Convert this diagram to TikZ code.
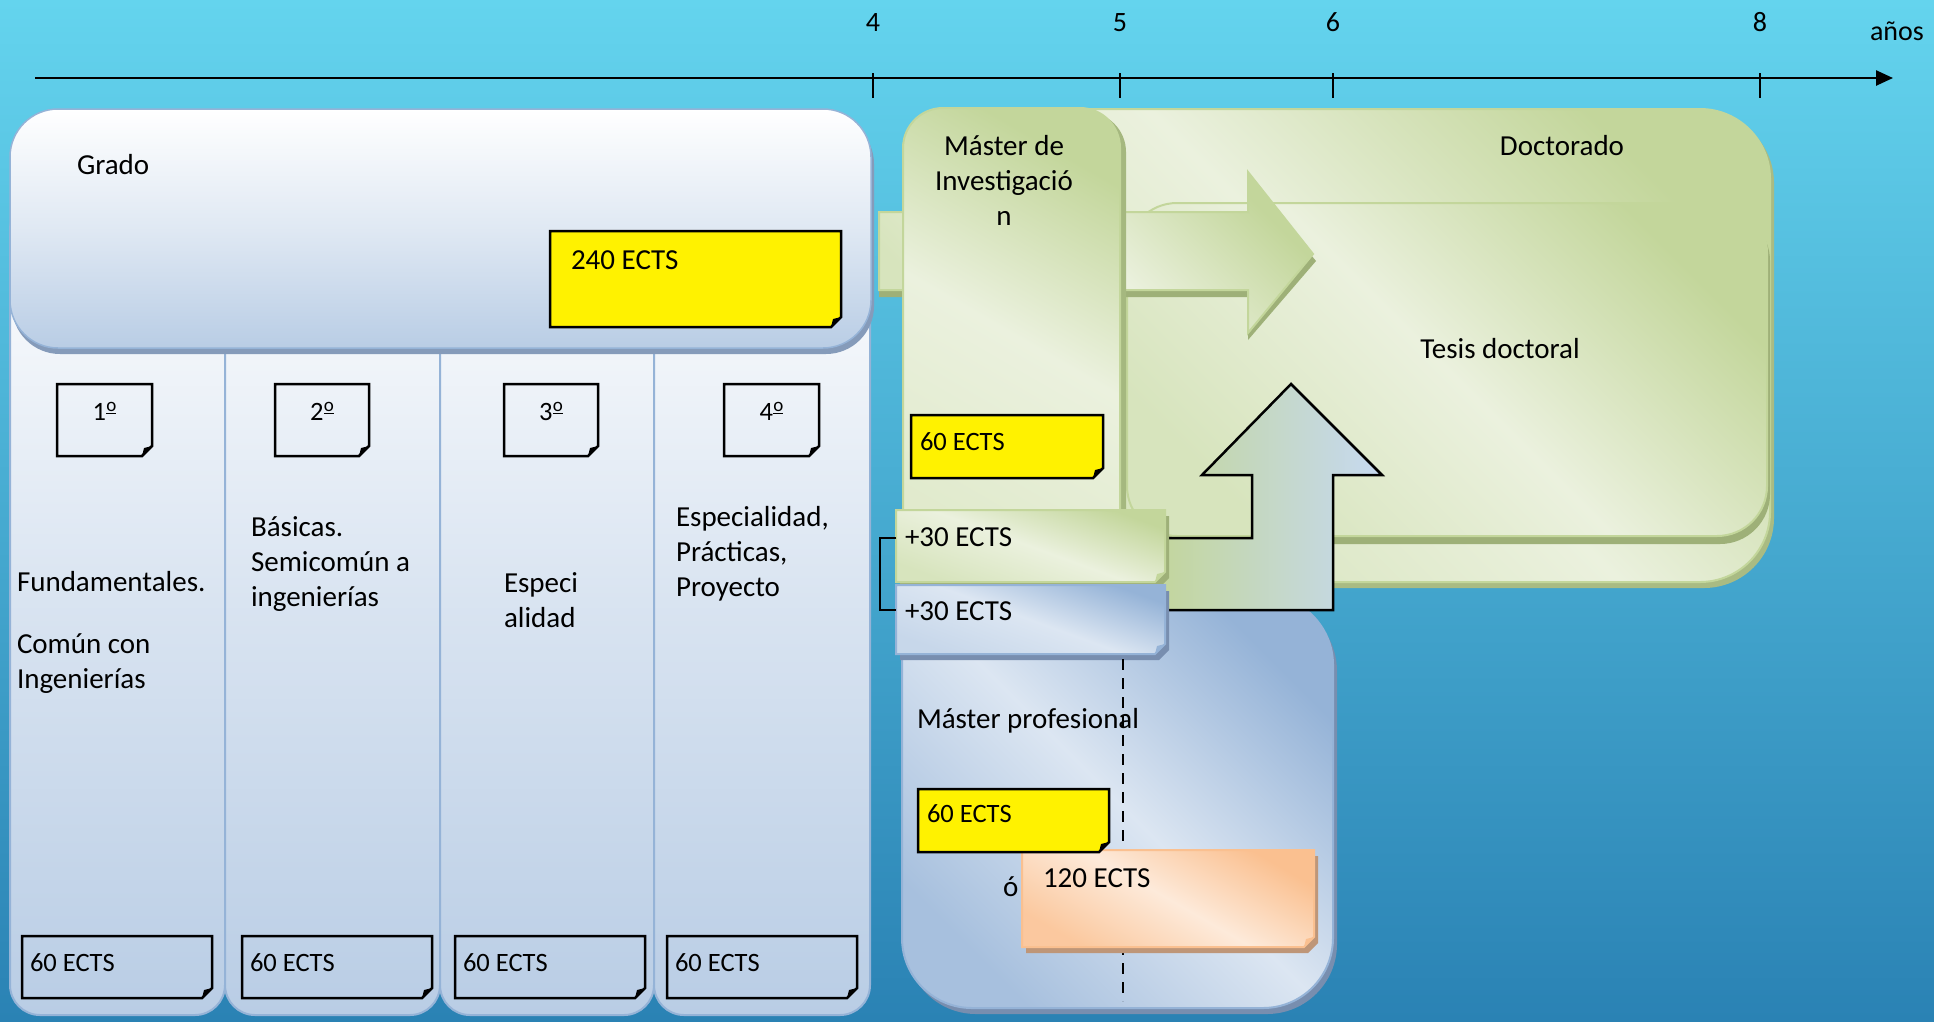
\documentclass[tikz,border=0pt]{standalone}
\usepackage{fontspec}
\setmainfont{Carlito}
\usetikzlibrary{calc,arrows.meta}
\definecolor{bgtop}{RGB}{100,212,238}
\definecolor{bgbot}{RGB}{42,130,180}
\definecolor{gblue}{RGB}{185,205,229}
\definecolor{gbluebd}{RGB}{149,179,215}
\definecolor{gbluesh}{RGB}{120,142,175}
\definecolor{glight}{RGB}{235,241,222}
\definecolor{gmid}{RGB}{215,228,189}
\definecolor{gdark}{RGB}{195,214,155}
\definecolor{gsh}{RGB}{158,176,120}
\definecolor{blight}{RGB}{220,230,242}
\definecolor{bdark}{RGB}{149,179,215}
\definecolor{bluish}{RGB}{198,217,241}
\definecolor{olight}{RGB}{253,234,218}
\definecolor{odark}{RGB}{250,192,144}
\definecolor{osh}{RGB}{190,150,120}
\newcommand\stnote[8]{%
  \node[inner sep=0pt,outer sep=0pt,minimum width=#4pt,minimum height=#5pt,anchor=north west] (#1) at (#2,#3) {};
  \path[#8] ([shift={(4pt,-6pt)}]#1.north west) -- ([shift={(4pt,-6pt)}]#1.north east) -- ([shift={(4pt,4pt)}]#1.south east) -- ([shift={(-6pt,-6pt)}]#1.south east) -- ([shift={(4pt,-6pt)}]#1.south west) -- cycle;
  \path[#6] (#1.north west) -- (#1.north east) -- ([yshift=10pt]#1.south east) -- ([xshift=-10pt]#1.south east) -- (#1.south west) -- cycle;
  \path[#7] ([yshift=10pt]#1.south east) -- ([xshift=-10pt]#1.south east) -- ([shift={(-8pt,8pt)}]#1.south east) -- cycle;
}
\newcommand\tbl[1]{\begin{tabular}[t]{@{}l@{}}#1\end{tabular}}
\newcommand\tblc[1]{\begin{tabular}[t]{@{}c@{}}#1\end{tabular}}
\newcommand\ordm{\kern0.5pt\raisebox{0.33em}{\fontsize{19}{19}\selectfont\underline{o}}}
\begin{document}
\begin{tikzpicture}[x=1pt,y=-1pt,
  txt/.style={font=\fontsize{29}{35}\selectfont, inner sep=0pt, outer sep=0pt, text=black},
  stxt/.style={font=\fontsize{26.5}{32}\selectfont, inner sep=0pt, outer sep=0pt, text=black},
  axlab/.style={font=\fontsize{28}{32}\selectfont, inner sep=0pt, outer sep=0pt},
  yellownote/.style={fill=yellow, draw=black, line width=2.5pt},
  plainnote/.style={draw=black, line width=2.5pt},
  greenfill/.style={top color=gdark, bottom color=gmid, middle color=glight, shading angle=-45},
  bluefill/.style={top color=bdark, bottom color=bdark!75!blight, middle color=blight, shading angle=-45},
]
\useasboundingbox (0,0) rectangle (1934,1021);
\shade[top color=bgtop, bottom color=bgbot] (0,0) rectangle (1934,1021);

% time axis
\coordinate (axstart) at (35,78);
\coordinate (axend) at (1893,78);
\draw[line width=2.5pt, -{Triangle[length=17pt,width=15pt]}] (axstart) -- (axend);
\foreach \x/\l in {873/4,1120/5,1333/6,1760/8}{
  \draw[line width=2pt] (\x,73) -- (\x,98);
  \node[axlab, anchor=base] (yr\l) at (\x,31) {\l};
}
\node[axlab, anchor=base west] (anos) at (1870,40) {años};

% Grado columns
\foreach \a/\b in {10/225,225/440,440/654,654/870}{
  \shade[top color=white, bottom color=gblue, middle color=white!45!gblue, draw=gbluebd, line width=2pt, rounded corners=30pt] (\a,200) rectangle (\b,1015);
}
% Grado header
\fill[gbluesh!80!gblue, rounded corners=48pt] (12,116) rectangle (874,354);
\shade[top color=white, bottom color=gblue, middle color=white!55!gblue, draw=gbluebd, line width=1.5pt, rounded corners=48pt] (10,109) rectangle (871,348);
\node[txt, anchor=base west] (grado) at (77,174) {Grado};
\stnote{n240}{550}{231}{291}{96}{yellownote}{fill=black}{}
\node[txt, anchor=base west] (t240) at (571,269) {240 ECTS};

% year notes
\stnote{y1}{57}{384}{95}{72}{plainnote}{fill=black}{}
\stnote{y2}{275}{384}{94}{72}{plainnote}{fill=black}{}
\stnote{y3}{504}{384}{94}{72}{plainnote}{fill=black}{}
\stnote{y4}{724}{384}{95}{72}{plainnote}{fill=black}{}
\node[stxt, anchor=base] (ty1) at (y1.north |- 0,420) {1\ordm};
\node[stxt, anchor=base] (ty2) at (y2.north |- 0,420) {2\ordm};
\node[stxt, anchor=base] (ty3) at (y3.north |- 0,420) {3\ordm};
\node[stxt, anchor=base] (ty4) at (y4.north |- 0,420) {4\ordm};

% column texts
\node[txt, anchor=base west] (c1) at (17,591) {\tbl{Fundamentales.\\[27pt]Común con\\Ingenierías}};
\node[txt, anchor=base west] (c2) at (251,536) {\tbl{Básicas.\\Semicomún a\\ingenierías}};
\node[txt, anchor=base west] (c3) at (504,592) {\tbl{Especi\\alidad}};
\node[txt, anchor=base west] (c4) at (676,526) {\tbl{Especialidad,\\Prácticas,\\Proyecto}};

% bottom 60 ECTS notes
\foreach \n/\x in {1/22,2/242,3/455,4/667}{
  \stnote{e\n}{\x}{936}{190}{62}{plainnote}{fill=black}{}
  \node[stxt, anchor=base west] (te\n) at (\x+8,971) {60 ECTS};
}

% Doctorado
\fill[gsh!70!gdark, rounded corners=70pt] (1004,113) rectangle (1774,588);
\shade[greenfill, draw=gdark, line width=2pt, rounded corners=70pt] (1000,109) rectangle (1770,582);
\node[txt, anchor=base] (doct) at (1562,155) {Doctorado};

% Tesis
\fill[gsh, rounded corners=50pt] (1130,211) rectangle (1770,544);
\shade[greenfill, draw=gdark, line width=2pt, rounded corners=50pt] (1127,203) rectangle (1767,536);
\node[txt, anchor=base] (tesis) at (1500,358) {Tesis doctoral};

% Master profesional box
\fill[gbluesh, rounded corners=70pt] (906,601) rectangle (1337,1014);
\shade[bluefill, draw=bdark, line width=2pt, rounded corners=70pt] (902,595) rectangle (1333,1008);

% big right arrow
\fill[gsh] (879,219) -- (1248,219) -- (1248,179) -- (1316,261) -- (1248,340) -- (1248,297) -- (879,297) -- cycle;
\shade[greenfill, draw=gdark, line width=2pt] (879,212) -- (1248,212) -- (1248,172) -- (1313,254) -- (1248,333) -- (1248,290) -- (879,290) -- cycle;

% Master investigacion
\fill[gsh!80!gdark, rounded corners=40pt] (906,112) rectangle (1126,560);
\shade[top color=gdark, bottom color=glight!50!gmid, middle color=glight, shading angle=-30, draw=gdark, line width=2pt, rounded corners=40pt] (903,108) rectangle (1120,560);
\node[txt, anchor=base] (minv) at (1004,155) {\tblc{Máster de\\Investigació\\n}};
\stnote{m60}{911}{415}{192}{63}{yellownote}{fill=black}{}
\node[stxt, anchor=base west] (tm60) at (920,450) {60 ECTS};

% up arrow into the thesis
\shade[left color=gdark, right color=bluish, middle color=gdark!50!bluish, draw=black, line width=2.5pt] (1155,538) -- (1252,538) -- (1252,475) -- (1202,475) -- (1291,384) -- (1382,475) -- (1333,475) -- (1333,610) -- (1155,610) -- cycle;

% +30 notes
\stnote{p30g}{896}{510}{269}{72}{top color=gdark, bottom color=gmid, middle color=glight, shading angle=-20, draw=gdark, line width=2pt}{fill=gdark}{fill=gsh}
\stnote{p30b}{896}{585}{269}{69}{top color=bdark, bottom color=blight!70!bdark, middle color=blight, shading angle=-20, draw=bdark, line width=2pt}{fill=bdark}{fill=gbluesh}
\draw[line width=2.5pt] ($(p30g.north west)+(0,28)$) -- ++(-16,0) |- ($(p30b.north west)+(0,25)$);
\node[txt, anchor=base west] (tp30g) at (905,546) {+30 ECTS};
\node[txt, anchor=base west] (tp30b) at (905,620) {+30 ECTS};

% Master profesional contents
\coordinate (dtop) at (1123,659);
\coordinate (dbot) at (1123,1001);
\draw[line width=2.5pt, dash pattern=on 11pt off 8pt] (dtop) -- (dbot);
\node[txt, anchor=base west] (mprof) at (917,728) {Máster profesional};
\stnote{p120}{1022}{850}{292}{97}{top color=odark, bottom color=odark!80!olight, middle color=olight, shading angle=-30, draw=odark, line width=2pt}{fill=odark}{fill=osh}
\stnote{p60}{918}{789}{191}{63}{yellownote}{fill=black}{}
\node[stxt, anchor=base west] (tp60) at (927,822) {60 ECTS};
\node[txt, anchor=base west] (t120) at (1043,887) {120 ECTS};
\node[txt, anchor=base west] (oo) at (1003,896) {ó};
\end{tikzpicture}
\end{document}
